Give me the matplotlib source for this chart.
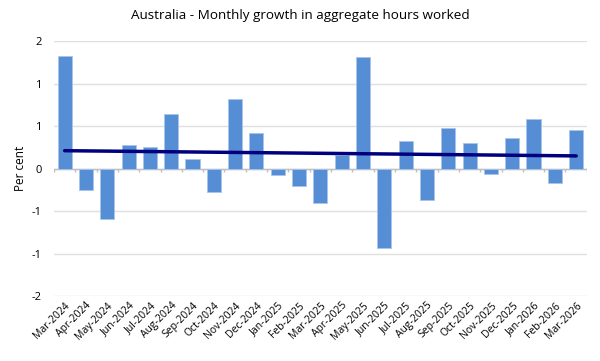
import numpy as np
import matplotlib
matplotlib.use('Agg')
import matplotlib.pyplot as plt
from matplotlib.ticker import FuncFormatter

# --- DATA ---
months = ['Mar-2024', 'Apr-2024', 'May-2024', 'Jun-2024', 'Jul-2024', 'Aug-2024',
          'Sep-2024', 'Oct-2024', 'Nov-2024', 'Dec-2024', 'Jan-2025', 'Feb-2025',
          'Mar-2025', 'Apr-2025', 'May-2025', 'Jun-2025', 'Jul-2025', 'Aug-2025',
          'Sep-2025', 'Oct-2025', 'Nov-2025', 'Dec-2025', 'Jan-2026', 'Feb-2026',
          'Mar-2026']
growth = [1.33, -0.25, -0.59, 0.28, 0.25, 0.64, 0.11, -0.27, 0.82, 0.42, -0.07, -0.20,
          -0.40, 0.16, 1.31, -0.93, 0.32, -0.37, 0.48, 0.30, -0.06, 0.36, 0.58, -0.17,
          0.45]

plt.rcParams['font.family'] = ['Open Sans', 'DejaVu Sans']

x = np.arange(len(months))
vals = np.array(growth)

# linear trend (Excel-style trendline)
slope, icpt = np.polyfit(x, vals, 1)
trend = slope * x + icpt

fig = plt.figure(figsize=(6, 3.61), dpi=100)
ax = fig.add_axes([0.09, 0.18, 0.888, 0.706])

ax.bar(x, vals, width=0.66, color='#558ED5', edgecolor='#A9C4EB', linewidth=0.6, zorder=3)
ax.plot(x, trend, color='#00007F', linewidth=2.5, solid_capstyle='round', zorder=4)

ax.set_xlim(-0.5, len(months) - 0.5)
ax.set_ylim(-1.5, 1.5)
ax.set_yticks(np.arange(-1.5, 1.51, 0.5))


def excel_round(v, pos):
    r = int(np.floor(abs(v) + 0.5 + 1e-9)) * (1 if v >= 0 else -1)
    return str(r)


ax.yaxis.set_major_formatter(FuncFormatter(excel_round))
ax.grid(axis='y', color='#E0E0E0', linewidth=1, zorder=0)
for s in ax.spines.values():
    s.set_visible(False)
ax.tick_params(axis='y', length=0, labelsize=8, pad=9)

# zero axis line with category tick marks
ax.axhline(0, color='#BFBFBF', linewidth=1, zorder=2)
bounds = np.arange(len(months) + 1) - 0.5
ax.vlines(bounds, -0.04, 0, color='#BFBFBF', linewidth=1, zorder=2)

ax.set_xticks(x)
ax.set_xticklabels(months, rotation=45, ha='right', rotation_mode='anchor', fontsize=7.5)
ax.tick_params(axis='x', length=0, pad=3)

ax.set_ylabel('Per cent', fontsize=8.5, labelpad=3)
fig.suptitle('Australia - Monthly growth in aggregate hours worked', fontsize=9.7, y=0.975)

plt.savefig('out.png', dpi=100)
